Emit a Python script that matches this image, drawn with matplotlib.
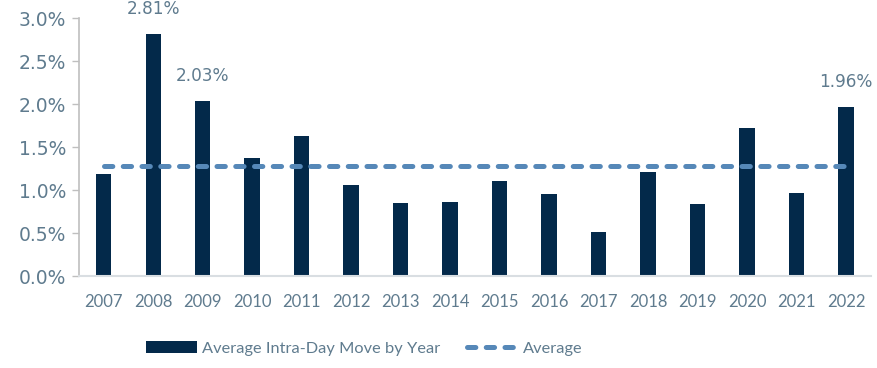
import matplotlib
matplotlib.use('Agg')
import matplotlib.pyplot as plt
from matplotlib.ticker import FuncFormatter

years = ['2007', '2008', '2009', '2010', '2011', '2012', '2013', '2014',
         '2015', '2016', '2017', '2018', '2019', '2020', '2021', '2022']
moves = [1.19, 2.81, 2.03, 1.37, 1.63, 1.06, 0.85, 0.86,
         1.10, 0.95, 0.51, 1.21, 0.84, 1.72, 0.97, 1.96]
average = 1.28
labelled = ['2008', '2009', '2022']

bar_color = '#03294A'
avg_color = '#5688B8'
text_color = '#5F7B8E'

plt.rcParams['lines.scale_dashes'] = False

fig = plt.figure(figsize=(8.77, 3.68), dpi=100, facecolor='white')
ax = fig.add_axes([0.090, 0.25, 0.903, 0.701])

x = range(len(years))
bars = ax.bar(x, moves, width=0.31, color=bar_color, zorder=2)
line, = ax.plot(x, [average] * len(years), color=avg_color, lw=3.6, dashes=(6, 7.5),
                dash_capstyle='round', zorder=3)

for i, y in enumerate(years):
    if y in labelled:
        ax.annotate(f'{moves[i]:.2f}%', (i, moves[i]), xytext=(0, 12), textcoords='offset points',
                    ha='center', va='bottom', fontsize=12.2, color=text_color,
                    family='DejaVu Sans', annotation_clip=False)

ax.set_xlim(-0.5, len(years) - 0.5)
ax.set_ylim(0, 3.0)
ax.set_yticks([0, 0.5, 1.0, 1.5, 2.0, 2.5, 3.0])
ax.yaxis.set_major_formatter(FuncFormatter(lambda v, p: f'{v:.1f}%'))
ax.set_xticks(list(x))
ax.set_xticklabels(years, family='Lato', fontsize=12, color=text_color)
ax.tick_params(axis='x', length=0, pad=13)
ax.tick_params(axis='y', length=5, width=1, color='#BFBFBF', labelsize=13.5,
               labelcolor=text_color, pad=4)

for s in ['top', 'right']:
    ax.spines[s].set_visible(False)
ax.spines['left'].set_color('#BFBFBF')
ax.spines['left'].set_linewidth(1.2)
ax.spines['bottom'].set_color('#D9DEE2')
ax.spines['bottom'].set_linewidth(1.5)

leg = fig.legend([bars, line], ['Average Intra-Day Move by Year', 'Average'],
                 loc='center left', bbox_to_anchor=(0.1494, 0.054), ncol=2, frameon=False,
                 prop={'family': 'Lato', 'size': 11.8}, handlelength=3.1, handleheight=0.8,
                 columnspacing=1.6, handletextpad=0.35)
for t in leg.get_texts():
    t.set_color(text_color)

plt.savefig('out.png', dpi=100, facecolor='white')
